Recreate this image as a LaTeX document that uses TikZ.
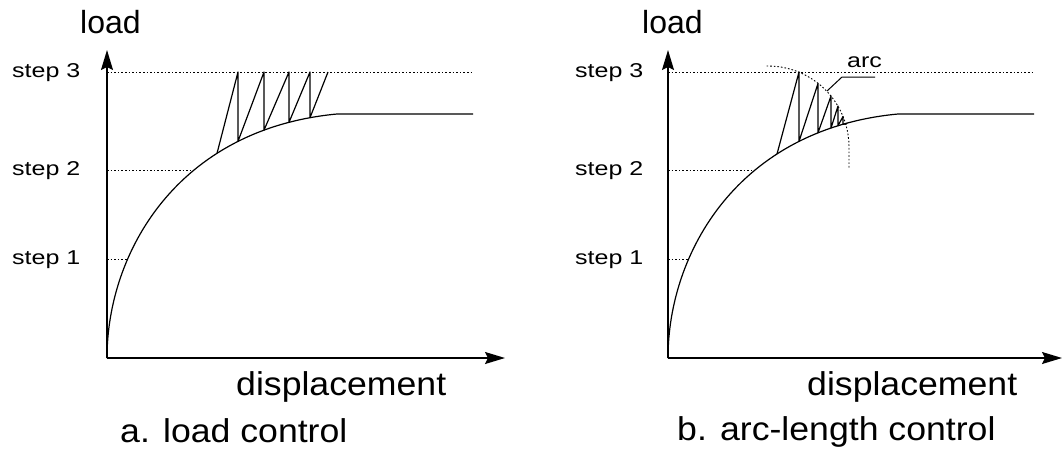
\documentclass[tikz,border=0pt]{standalone}
\usepackage{fontspec}
\setmainfont{Liberation Sans}
\newfontfamily\stepf[FakeStretch=1.25]{Liberation Sans}
\newfontfamily\widef[FakeStretch=1.08]{Liberation Sans}
\usetikzlibrary{arrows.meta,intersections}
\tikzset{
  axisline/.style={line width=1.4pt, -{Stealth[length=20pt,width=12pt,inset=3pt]}},
  curveline/.style={line width=1.2pt, line join=round},
  guide/.style={line width=0.9pt, dash pattern=on 1.6pt off 2pt},
  leader/.style={line width=1pt},
  steplbl/.style={anchor=base west, inner sep=0pt, font=\stepf\fontsize{20}{24}\selectfont},
  loadlbl/.style={anchor=base west, inner sep=0pt, font=\fontsize{32}{38}\selectfont},
  widelbl/.style={anchor=base west, inner sep=0pt, font=\widef\fontsize{33}{40}\selectfont},
}
% #1 prefix, #2 x-axis length, #3 list of x values where points on the curve are needed
\newcommand\graphbody[3]{%
  \coordinate (#1o) at (0,0);
  \coordinate (#1ytop) at (0,308);
  \coordinate (#1xend) at (#2,0);
  \draw[axisline] (#1o) -- (#1ytop);
  \draw[axisline] (#1o) -- (#1xend);
  \coordinate (#1s3a) at (0,286); \coordinate (#1s3b) at (366,286);
  \coordinate (#1s2a) at (0,188); \coordinate (#1s2b) at (86.5,188);
  \coordinate (#1s1a) at (0,99);  \coordinate (#1s1b) at (21,99);
  \draw[guide] (#1s3a) -- (#1s3b);
  \draw[guide] (#1s2a) -- (#1s2b);
  \draw[guide] (#1s1a) -- (#1s1b);
  \coordinate (#1kink) at (230,244);
  \coordinate (#1cend) at (366,244);
  \draw[curveline, name path=#1curve] (#1o) .. controls (0,105) and (70,229) .. (#1kink) -- (#1cend);
  \foreach \xx [count=\i] in {#3} {
    \path[name path=#1v\i] (\xx,-5) -- (\xx,300);
    \path[name intersections={of=#1curve and #1v\i, by={#1b\i}}];
  }
}
\begin{document}
\begin{tikzpicture}[x=1pt,y=1pt]
\useasboundingbox (0,0) rectangle (1064,-453);
% ---------- panel a ----------
\begin{scope}[shift={(107,-358)}]
  \graphbody{L}{398}{110,131,157,182,203}
  \node[steplbl] (Lt3) at (-95,281) {step 3};
  \node[steplbl] (Lt2) at (-95,183) {step 2};
  \node[steplbl] (Lt1) at (-95,94) {step 1};
  \node[loadlbl] (Lload) at (-27,325) {load};
  \node[widelbl] (Ldisp) at (129,-37) {displacement};
  \node[widelbl] (Lcap) at (13,-84) {a. load control};
  \draw[curveline] (Lb1) -- (131,286) -- (Lb2) -- (157,286) -- (Lb3)
     -- (182,286) -- (Lb4) -- (203,286) -- (Lb5) -- (221,286);
\end{scope}
% ---------- panel b ----------
\begin{scope}[shift={(668,-358)}]
  \graphbody{R}{394}{109,131,150,163,170,175,179}
  \node[steplbl] (Rt3) at (-93,281) {step 3};
  \node[steplbl] (Rt2) at (-93,183) {step 2};
  \node[steplbl] (Rt1) at (-93,94) {step 1};
  \node[loadlbl] (Rload) at (-26,325) {load};
  \node[widelbl] (Rdisp) at (139,-37) {displacement};
  \node[widelbl] (Rcap) at (9,-82) {b. arc-length control};
  \draw[curveline] (Rb1) -- (131,286) -- (Rb2) -- (150,274.5) -- (Rb3)
     -- (163,262) -- (Rb4) -- (170,252) -- (Rb5) -- (175,241.5) -- (Rb6)
     -- (178,234) -- (Rb7);
  \coordinate (Rc) at (100,211);
  \coordinate (Rarcend) at (181,190);
  \draw[guide] (Rc) ++(91:81) arc[start angle=91, end angle=0, radius=81] -- (Rarcend);
  \node[steplbl] (Rarc) at (179,291) {arc};
  \coordinate (Rl1) at (207,281);
  \coordinate (Rl2) at (174,281);
  \coordinate (Rl3) at (159,267);
  \draw[leader] (Rl1) -- (Rl2) -- (Rl3);
\end{scope}
\end{tikzpicture}
\end{document}
